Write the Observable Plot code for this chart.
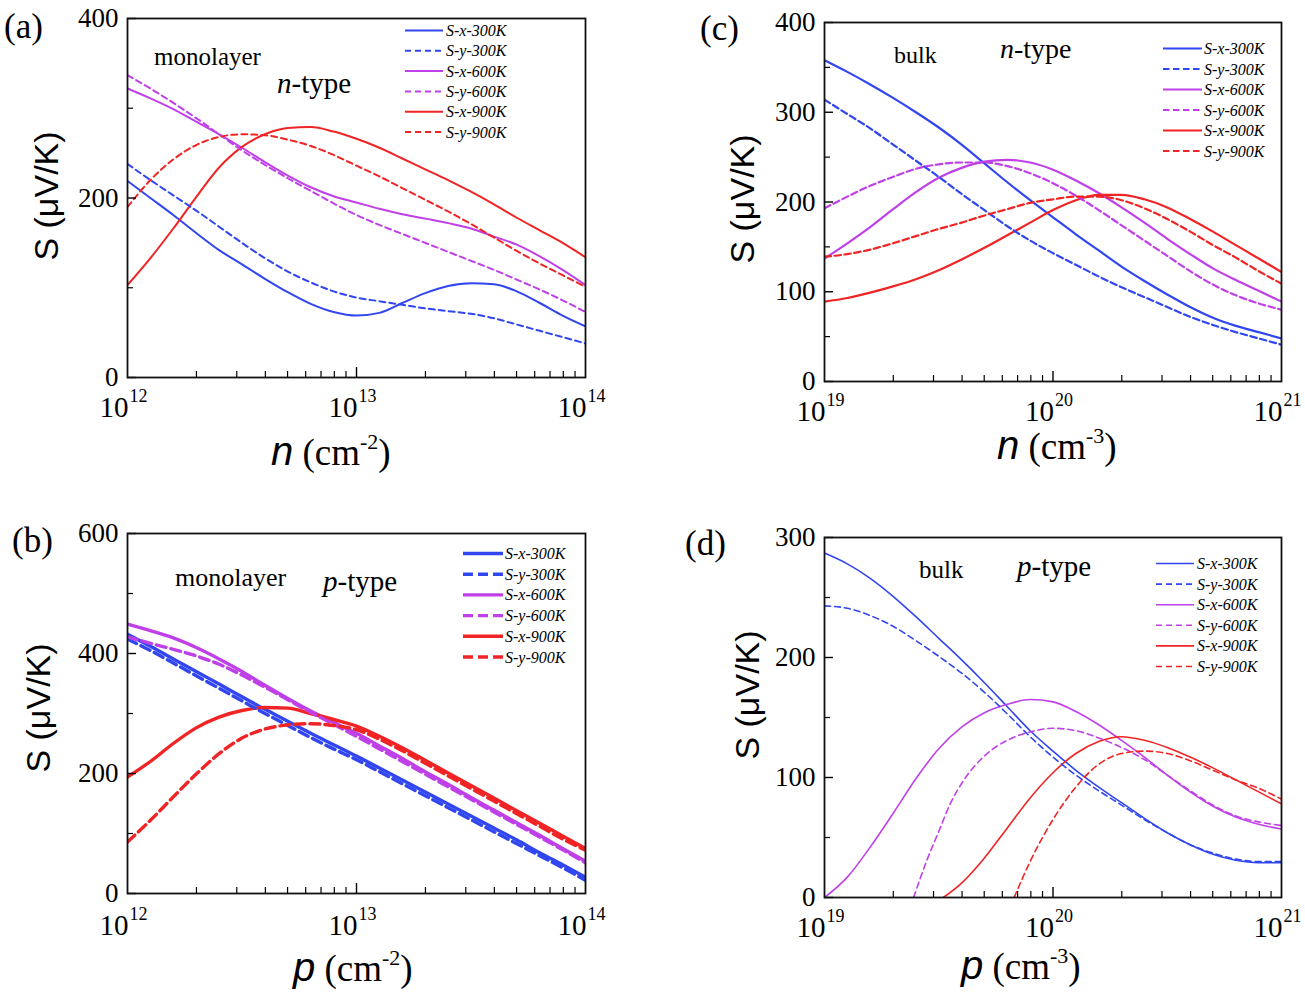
<!DOCTYPE html>
<html><head><meta charset="utf-8">
<script src="https://cdn.jsdelivr.net/npm/d3@7"></script>
<script src="https://cdn.jsdelivr.net/npm/@observablehq/plot@0.6"></script>
<style>
body{margin:0;background:#fff;}
#wrap{position:relative;width:1305px;height:992px;overflow:hidden;background:#fff;}
#wrap > svg{position:absolute;}
</style></head><body><div id="wrap"></div>
<script>
// ---------- data (x given as log10 of carrier concentration) ----------
const temps = ["300K", "600K", "900K"];
const tempColors = ["#3246f0", "#c040e8", "#f02424"];

// (a) monolayer n-type
const gridA = [12.0,12.1,12.2,12.3,12.4,12.5,12.6,12.7,12.8,12.9,13.0,13.1,13.2,13.3,13.4,13.5,13.6,13.7,13.8,13.9,14.0];
const aSx300 = [219,200,181,161,142,126,110,95,82,73,69,72,83,94,102,105,104,96,83,69,57];
const aSy300 = [238,220,203,186,168,150,133,118,106,96,89,85,81,77,74,71,66,59,52,45,38];
const aSx600 = [322,311,299,285,271,256,240,225,212,202,195,188,182,177,172,166,157,148,135,120,103];
const aSy600 = [337,322,306,289,271,253,237,222,208,194,181,170,160,150,140,130,120,109,98,86,73];
const aSx900 = [103,133,166,201,234,257,271,278,279,274,266,256,244,232,220,207,193,178,164,150,134];
const aSy900 = [190,220,243,259,268,271,270,265,258,248,236,224,211,198,185,171,156,141,127,114,101];

// (b) monolayer p-type
const gridB = [12.0,12.1,12.2,12.3,12.4,12.5,12.6,12.7,12.8,12.9,13.0,13.1,13.2,13.3,13.4,13.5,13.6,13.7,13.8,13.9,14.0];
const bSx300 = [432,412,391,370,349,328,307,287,267,248,229,209,189,169,149,129,109,89,68,48,27];
const bSy300 = [424,405,384,363,342,321,300,280,260,241,223,203,183,163,143,123,103,83,63,43,22];
const bSx600 = [449,438,426,410,391,370,347,325,304,285,267,246,225,203,182,160,139,118,97,75,54];
const bSy600 = [428,417,407,396,382,364,344,323,302,282,262,241,220,199,178,157,136,115,94,73,51];
const bSx900 = [194,220,250,276,294,305,310,309,300,290,279,262,243,222,201,180,159,138,117,96,75];
const bSy900 = [86,122,161,199,233,259,274,281,283,280,273,257,238,217,196,175,154,133,112,91,72];

// (c) bulk n-type
const gridC = [19.0,19.1,19.2,19.3,19.4,19.5,19.6,19.7,19.8,19.9,20.0,20.1,20.2,20.3,20.4,20.5,20.6,20.7,20.8,20.9,21.0];
const cSx300 = [358,345,331,316,300,283,264,243,222,202,183,164,146,128,112,97,83,71,62,55,48];
const cSy300 = [314,298,282,264,246,228,209,191,173,157,143,130,117,105,94,83,72,63,55,48,41];
const cSx600 = [137,154,172,192,211,227,238,245,247,244,236,224,210,194,177,159,142,126,113,101,89];
const cSy600 = [193,206,218,228,237,242,244,244,240,232,221,207,191,174,157,140,123,108,96,87,80];
const cSx900 = [89,93,99,106,114,124,136,149,163,177,191,202,208,208,203,194,181,167,152,137,122];
const cSy900 = [139,142,147,154,162,170,177,185,192,199,203,206,206,202,193,181,167,152,138,123,109];

// (d) bulk p-type
const gridD = [19.0,19.1,19.2,19.3,19.4,19.5,19.6,19.7,19.8,19.9,20.0,20.1,20.2,20.3,20.4,20.5,20.6,20.7,20.8,20.9,21.0];
const dSx300 = [287,278,266,251,234,216,198,179,159,139,122,106,92,79,66,54,44,36,31,29,29];
const dSy300 = [243,241,235,226,214,201,187,171,153,134,117,102,89,77,65,54,44,37,32,30,30];
const dSx600 = [0,17,42,70,99,124,142,154,161,165,163,155,144,131,117,102,88,76,67,61,57];
const dSy600X = [19.39,19.45,19.5,19.55,19.6,19.7,19.8,19.9,20.0,20.1,20.2,20.3,20.4,20.5,20.6,20.7,20.8,20.9,21.0];
const dSy600 = [0,32,55,78,95,118,131,138,141,139,133,125,115,102,89,77,68,63,60];
const dSx900X = [19.52,19.6,19.7,19.8,19.9,20.0,20.1,20.2,20.3,20.4,20.5,20.6,20.7,20.8,20.9,21.0];
const dSx900 = [0,12,33,58,83,104,120,130,134,131,125,117,108,98,88,78];
const dSy900X = [19.83,19.9,20.0,20.1,20.2,20.3,20.4,20.5,20.6,20.7,20.8,20.9,21.0];
const dSy900 = [0,30,65,92,111,120,122,120,114,106,98,91,82];

// axis tick values
const xMajorMono = [1e12, 1e13, 1e14];
const xMajorBulk = [1e19, 1e20, 1e21];
const yTicksA = [0, 200, 400], yMinorA = [100, 300];
const yTicksB = [0, 200, 400, 600], yMinorB = [100, 300, 500];
const yTicksC = [0, 100, 200, 300, 400], yMinorC = [50, 150, 250, 350];
const yTicksD = [0, 100, 200, 300], yMinorD = [50, 150, 250];

const legendLabels = ["S-x-300K","S-y-300K","S-x-600K","S-y-600K","S-x-900K","S-y-900K"];

// ---------- helpers ----------
function rows(grid, vals, T, dir) {
  return grid.map((e, i) => ({n: Math.pow(10, e), S: vals[i], T, dir}));
}
function minorTicks(major) {
  const out = [];
  for (let i = 0; i < major.length - 1; i++) for (let k = 2; k <= 9; k++) out.push(major[i] * k);
  return out;
}

const wrap = document.getElementById("wrap");

function makePanel(cfg) {
  const fw = cfg.width - cfg.ml - cfg.mr, fh = cfg.height - cfg.mt - cfg.mb;
  const data = cfg.series.flat();
  const solid = data.filter(d => d.dir === "x");
  const dashed = data.filter(d => d.dir === "y");
  const p = Plot.plot({
    width: cfg.width, height: cfg.height,
    marginLeft: cfg.ml, marginRight: cfg.mr, marginTop: cfg.mt, marginBottom: cfg.mb,
    x: {type: "log", domain: [cfg.xMajor[0], cfg.xMajor[2]], axis: null},
    y: {domain: cfg.yDomain, axis: null},
    color: {domain: temps, range: tempColors},
    style: {fontFamily: "Liberation Serif", background: "transparent", color: "#000"},
    marks: [
      Plot.line(solid, {x: "n", y: "S", z: "T", stroke: "T", strokeWidth: cfg.sw, curve: "monotone-x", clip: true}),
      Plot.line(dashed, {x: "n", y: "S", z: "T", stroke: "T", strokeWidth: cfg.sw, strokeDasharray: cfg.dash, curve: "monotone-x", clip: true}),
      Plot.tickX(minorTicks(cfg.xMajor), {x: d => d, insetTop: fh - 6, stroke: "#000", strokeWidth: 1.2}),
      Plot.tickX([cfg.xMajor[1]], {x: d => d, insetTop: fh - 10, stroke: "#000", strokeWidth: 1.4}),
      Plot.tickY(cfg.yMinor, {y: d => d, insetRight: fw - 6, stroke: "#000", strokeWidth: 1.2}),
      Plot.tickY(cfg.yTicks, {y: d => d, insetRight: fw - 9, stroke: "#000", strokeWidth: 1.4}),
      Plot.frame({stroke: "#111", strokeWidth: 1.8}),
      Plot.text(cfg.yTicks, {y: d => d, text: d => String(d), frameAnchor: "left", lineAnchor: "middle", textAnchor: "end", dx: -9, fontSize: 27, fill: "#000"}),
      Plot.text(cfg.xMajor, {x: d => d, text: () => "10", frameAnchor: "bottom", lineAnchor: "middle", textAnchor: "end", dy: cfg.xdy, dx: 1, fontSize: 29, fill: "#000"}),
      Plot.text(cfg.xMajor, {x: d => d, text: d => String(Math.round(Math.log10(d))), frameAnchor: "bottom", lineAnchor: "middle", textAnchor: "start", dy: cfg.xdy - 11, dx: 2, fontSize: 18, fill: "#000"})
    ]
  });
  p.style.left = cfg.left + "px";
  p.style.top = cfg.top + "px";
  p.style.position = "absolute";
  wrap.appendChild(p);
}

makePanel({
  left: 0, top: 0, width: 650, height: 480, ml: 127, mr: 65, mt: 18, mb: 103,
  xMajor: xMajorMono, yDomain: [0, 400], yTicks: yTicksA, yMinor: yMinorA, sw: 2, dash: "6,4", xdy: 30,
  series: [rows(gridA, aSx300, "300K", "x"), rows(gridA, aSy300, "300K", "y"),
           rows(gridA, aSx600, "600K", "x"), rows(gridA, aSy600, "600K", "y"),
           rows(gridA, aSx900, "900K", "x"), rows(gridA, aSy900, "900K", "y")]
});
makePanel({
  left: 650, top: 0, width: 655, height: 480, ml: 174, mr: 24, mt: 22, mb: 99,
  xMajor: xMajorBulk, yDomain: [0, 400], yTicks: yTicksC, yMinor: yMinorC, sw: 2.2, dash: "6.5,3.5", xdy: 30,
  series: [rows(gridC, cSx300, "300K", "x"), rows(gridC, cSy300, "300K", "y"),
           rows(gridC, cSx600, "600K", "x"), rows(gridC, cSy600, "600K", "y"),
           rows(gridC, cSx900, "900K", "x"), rows(gridC, cSy900, "900K", "y")]
});
makePanel({
  left: 0, top: 490, width: 650, height: 502, ml: 127, mr: 65, mt: 43, mb: 99,
  xMajor: xMajorMono, yDomain: [0, 600], yTicks: yTicksB, yMinor: yMinorB, sw: 3.4, dash: "10,5", xdy: 32,
  series: [rows(gridB, bSx300, "300K", "x"), rows(gridB, bSy300, "300K", "y"),
           rows(gridB, bSx600, "600K", "x"), rows(gridB, bSy600, "600K", "y"),
           rows(gridB, bSx900, "900K", "x"), rows(gridB, bSy900, "900K", "y")]
});
makePanel({
  left: 650, top: 490, width: 655, height: 502, ml: 174, mr: 24, mt: 47, mb: 95,
  xMajor: xMajorBulk, yDomain: [0, 300], yTicks: yTicksD, yMinor: yMinorD, sw: 1.6, dash: "6,4", xdy: 30,
  series: [rows(gridD, dSx300, "300K", "x"), rows(gridD, dSy300, "300K", "y"),
           rows(gridD, dSx600, "600K", "x"), rows(dSy600X, dSy600, "600K", "y"),
           rows(dSx900X, dSx900, "900K", "x"), rows(dSy900X, dSy900, "900K", "y")]
});

// ---------- overlay: titles, annotations, legends ----------
const ov = d3.create("svg").attr("width", 1305).attr("height", 992)
  .style("left", "0px").style("top", "0px").style("pointer-events", "none");
wrap.appendChild(ov.node());

const serif = "Liberation Serif", sans = "Liberation Sans";

function panelLabel(x, y, s) {
  ov.append("text").attr("x", x).attr("y", y).attr("font-family", serif).attr("font-size", 35).text(s);
}
panelLabel(4, 38, "(a)"); panelLabel(700, 40, "(c)"); panelLabel(12, 552, "(b)"); panelLabel(685, 555, "(d)");

function yTitle(cx, cy) {
  ov.append("text").attr("transform", `translate(${cx},${cy}) rotate(-90)`)
    .attr("text-anchor", "middle").attr("dominant-baseline", "central")
    .attr("font-family", sans).attr("font-size", 34).text("S (μV/K)");
}
yTitle(46, 196); yTitle(742, 199); yTitle(38, 708); yTitle(747, 695);

function xTitle(x, y, letter, exp) {
  const t = ov.append("text").attr("x", x).attr("y", y).attr("font-family", serif).attr("font-size", 37);
  t.append("tspan").attr("font-family", sans).attr("font-style", "italic").attr("font-size", 40).text(letter);
  t.append("tspan").text(" (cm");
  t.append("tspan").attr("font-size", 22).attr("dy", -16).text("-" + exp);
  t.append("tspan").attr("dy", 16).text(")");
}
xTitle(271, 465, "n", "2"); xTitle(997, 459, "n", "3"); xTitle(293, 981, "p", "2"); xTitle(961, 979, "p", "3");

function note(x, y, size, italicPart, rest) {
  const t = ov.append("text").attr("x", x).attr("y", y).attr("font-family", serif).attr("font-size", size);
  if (italicPart) t.append("tspan").attr("font-style", "italic").text(italicPart);
  t.append("tspan").text(rest);
}
note(154, 65, 25, "", "monolayer"); note(277, 93, 29, "n", "-type");
note(894, 63, 24, "", "bulk"); note(1000, 58, 28, "n", "-type");
note(175, 586, 26, "", "monolayer"); note(323, 591, 29, "p", "-type");
note(919, 578, 25, "", "bulk"); note(1017, 576, 29, "p", "-type");

function legend(cfg) {
  legendLabels.forEach((lab, i) => {
    const y = cfg.y0 + i * cfg.dy;
    const col = tempColors[Math.floor(i / 2)];
    ov.append("line").attr("x1", cfg.x0).attr("x2", cfg.x1).attr("y1", y).attr("y2", y)
      .attr("stroke", col).attr("stroke-width", cfg.sw)
      .attr("stroke-dasharray", i % 2 ? cfg.dash : null);
    ov.append("text").attr("x", cfg.tx).attr("y", y).attr("dominant-baseline", "central")
      .attr("font-family", serif).attr("font-style", "italic").attr("font-size", 16).text(lab);
  });
}
legend({x0: 405, x1: 443, tx: 446, y0: 30.5, dy: 20.3, sw: 2, dash: "6,4"});
legend({x0: 1163, x1: 1202, tx: 1204, y0: 48.5, dy: 20.5, sw: 2.2, dash: "6.5,3.5"});
legend({x0: 463, x1: 503, tx: 505, y0: 553.5, dy: 20.7, sw: 3.4, dash: "10,5"});
legend({x0: 1156, x1: 1194, tx: 1197, y0: 563.5, dy: 20.6, sw: 1.6, dash: "6,4"});
</script></body></html>
